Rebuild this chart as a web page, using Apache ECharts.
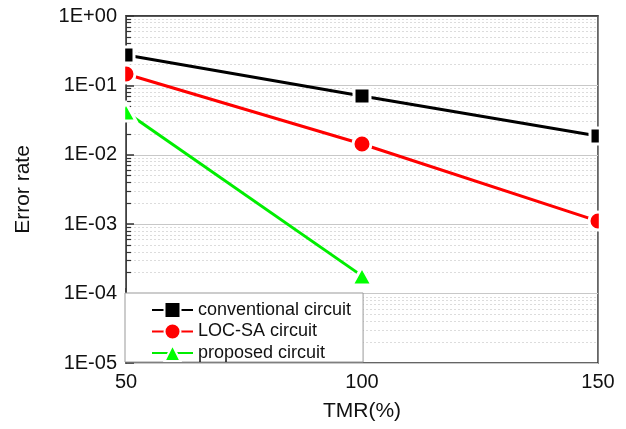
<!DOCTYPE html>
<html><head><meta charset="utf-8">
<script src="https://cdn.jsdelivr.net/npm/echarts@6/dist/echarts.min.js"></script>
<style>html,body{margin:0;padding:0;background:#fff}#c{width:626px;height:429px}</style>
</head><body><div id="c"></div>
<script>
const tmr = [50, 100, 150];
const conventional = [0.274, 0.0703, 0.0187];
const locsa = [0.146, 0.0143, 0.00111];
const proposedX = [50, 100];
const proposed = [0.0414, 0.00018];
const yTickValues = [1e-5, 1e-4, 1e-3, 1e-2, 1e-1, 1];
const yTickLabels = ['1E-05', '1E-04', '1E-03', '1E-02', '1E-01', '1E+00'];
const xTickLabels = ['50', '100', '150'];
const minorMantissas = [2, 3, 4, 5, 6, 7, 8, 9];
const minorExponents = [-5, -4, -3, -2, -1];

const minorLogPositions = [];
minorExponents.forEach(e => minorMantissas.forEach(m => minorLogPositions.push(e + Math.log10(m))));

const FONT = 'Liberation Sans, Arial, sans-serif';
const chart = echarts.init(document.getElementById('c'), null, {renderer: 'canvas'});

function pairs(xs, ys) { return ys.map((y, i) => [xs[i], y]); }

chart.setOption({
  animation: false,
  backgroundColor: '#fff',
  textStyle: {fontFamily: FONT},
  grid: {left: 126, right: 28, top: 16, bottom: 66, show: true, borderColor: '#333', borderWidth: 1.5, backgroundColor: 'transparent'},
  xAxis: {
    type: 'value', min: 50, max: 150, interval: 50,
    name: 'TMR(%)', nameLocation: 'middle', nameGap: 38,
    nameTextStyle: {fontSize: 21, color: '#111', fontFamily: FONT},
    axisLine: {show: true, lineStyle: {color: '#333', width: 1.5}},
    axisTick: {show: false},
    splitLine: {show: false},
    axisLabel: {fontSize: 20, color: '#111', margin: 9, fontFamily: FONT,
      formatter: v => xTickLabels[tmr.indexOf(v)] ?? ''}
  },
  yAxis: [{
    type: 'log', logBase: 10, min: 1e-5, max: 1, splitNumber: 5,
    name: 'Error rate', nameLocation: 'middle', nameGap: 92, nameRotate: 90,
    nameTextStyle: {fontSize: 21, color: '#111', fontFamily: FONT},
    axisLine: {show: true, lineStyle: {color: '#333', width: 1.5}},
    axisTick: {show: true, inside: true, length: 8, lineStyle: {color: '#333', width: 1.5}},
    minorTick: {show: false},
    splitLine: {show: true, lineStyle: {color: '#c8c8c8', width: 1}},
    axisLabel: {fontSize: 20, color: '#111', margin: 9, fontFamily: FONT,
      formatter: v => {
        let best = 0, bd = Infinity;
        yTickValues.forEach((t, i) => { const d = Math.abs(Math.log10(t) - Math.log10(v)); if (d < bd) { bd = d; best = i; } });
        return yTickLabels[best];
      }}
  }, {
    type: 'value', min: -5, max: 0, position: 'left', offset: 0,
    axisLine: {show: false},
    axisLabel: {show: false},
    axisTick: {show: true, inside: true, length: 5, customValues: minorLogPositions, lineStyle: {color: '#333', width: 1.2}},
    splitLine: {show: true, lineStyle: {color: '#dcdcdc', width: 1, type: [2, 2]}}
  }],
  legend: {
    orient: 'vertical', left: 125, top: 293,
    backgroundColor: '#fff', borderColor: '#999', borderWidth: 1,
    padding: [8, 12, 0, 26],
    itemWidth: 41, itemHeight: 20, itemGap: 3.5,
    textStyle: {fontSize: 18, color: '#111', fontFamily: FONT},
    data: ['conventional circuit', 'LOC-SA circuit', 'proposed circuit']
  },
  series: [{
    name: 'conventional circuit', type: 'line', yAxisIndex: 0,
    data: pairs(tmr, conventional),
    symbol: 'rect', symbolSize: 16,
    lineStyle: {color: '#000', width: 3},
    itemStyle: {color: '#000', borderColor: '#fff', borderWidth: 3},
    z: 5
  }, {
    name: 'LOC-SA circuit', type: 'line', yAxisIndex: 0,
    data: pairs(tmr, locsa),
    symbol: 'circle', symbolSize: 18,
    lineStyle: {color: '#ff0000', width: 3},
    itemStyle: {color: '#ff0000', borderColor: '#fff', borderWidth: 3},
    z: 5
  }, {
    name: 'proposed circuit', type: 'line', yAxisIndex: 0,
    data: pairs(proposedX, proposed),
    symbol: 'triangle', symbolSize: [20, 18],
    lineStyle: {color: '#00ee00', width: 3},
    itemStyle: {color: '#00ff00', borderColor: '#fff', borderWidth: 3},
    z: 5
  }]
});

// Mask the halves of markers that fall outside the plot frame (clip like the original)
const xL = chart.convertToPixel({xAxisIndex: 0}, tmr[0]);
const xR = chart.convertToPixel({xAxisIndex: 0}, tmr[tmr.length - 1]);
const yT = chart.convertToPixel({yAxisIndex: 0}, yTickValues[yTickValues.length - 1]);
const yB = chart.convertToPixel({yAxisIndex: 0}, yTickValues[0]);
chart.setOption({
  graphic: [
    {type: 'rect', z: 50, silent: true, shape: {x: xL - 9, y: yT, width: 8.2, height: yB - yT - 75}, style: {fill: '#fff'}},
    {type: 'rect', z: 50, silent: true, shape: {x: xR + 0.8, y: yT, width: 14, height: yB - yT}, style: {fill: '#fff'}}
  ]
});
</script></body></html>
